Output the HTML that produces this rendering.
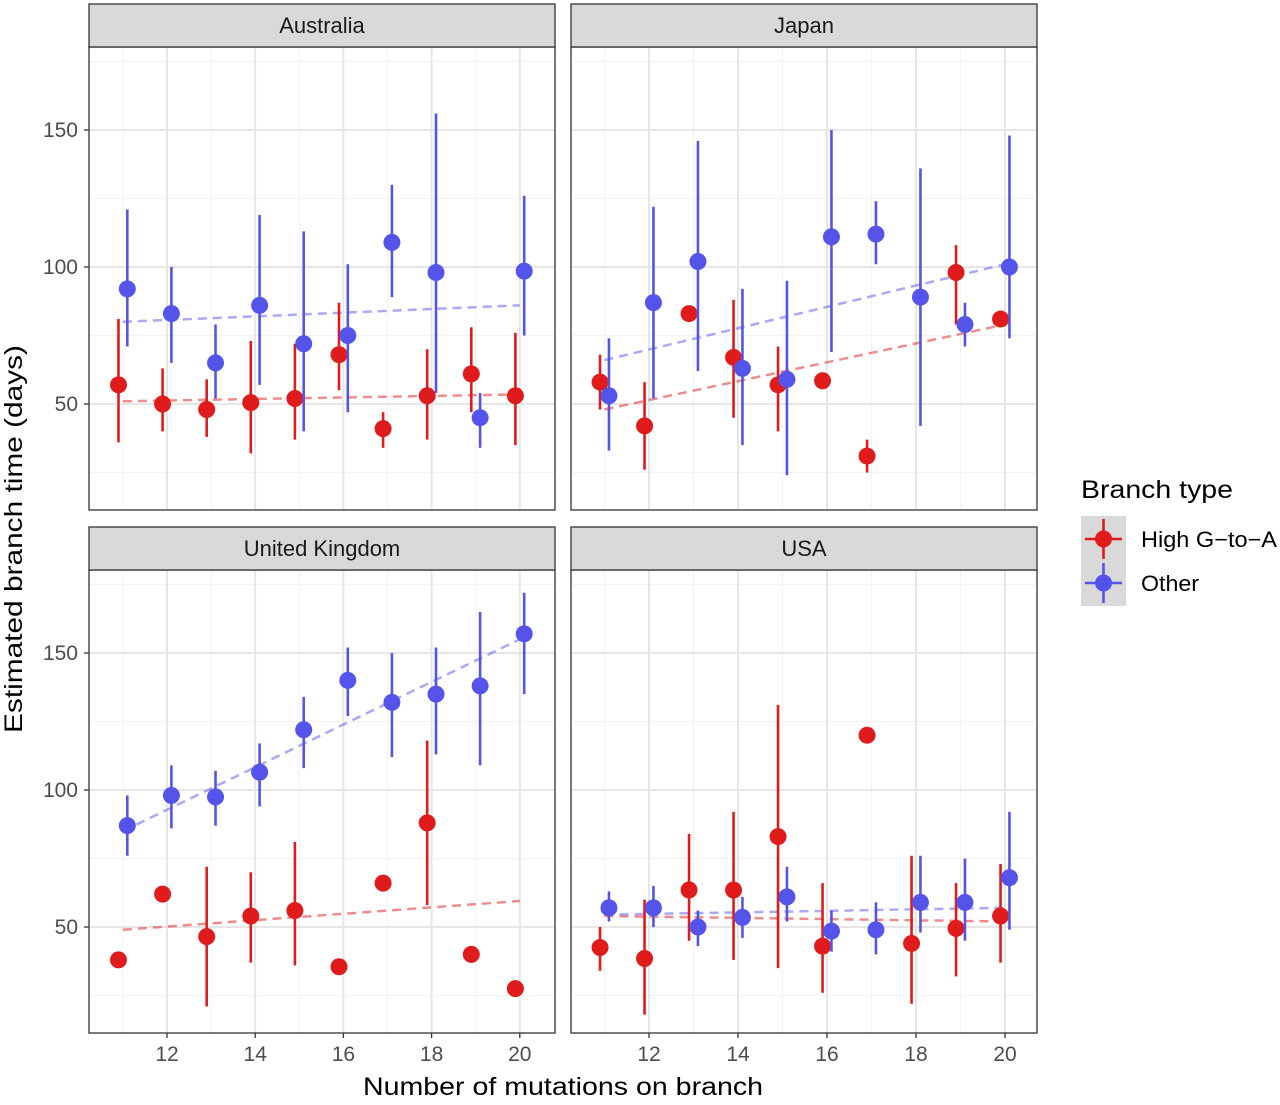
<!DOCTYPE html>
<html><head><meta charset="utf-8"><style>
body{margin:0;background:#fff;font-family:"Liberation Sans",sans-serif;}
svg text{font-family:"Liberation Sans",sans-serif;}
</style></head><body>
<svg id="c" width="1280" height="1100" xmlns="http://www.w3.org/2000/svg"></svg>
<script>
const panelNames=["Australia","Japan","United Kingdom","USA"];
const xs=[11,12,13,14,15,16,17,18,19,20];
const redVal=[[57,50,48,50.5,52,68,41,53,61,53],[58,42,83,67,57,58.5,31,null,98,81],[38,62,46.5,54,56,35.5,66,88,40,27.5],[42.5,38.5,63.5,63.5,83,43,120,44,49.5,54]];
const redLo=[[36,40,38,32,37,55,34,37,47,35],[48,26,null,45,40,null,25,null,79,null],[null,null,21,37,36,null,null,58,null,null],[34,18,45,38,35,26,null,22,32,37]];
const redHi=[[81,63,59,73,72,87,47,70,78,76],[68,58,null,88,71,null,37,null,108,null],[null,null,72,70,81,null,null,118,null,null],[50,60,84,92,131,66,null,76,66,73]];
const blueVal=[[92,83,65,86,72,75,109,98,45,98.5],[53,87,102,63,59,111,112,89,79,100],[87,98,97.5,106.5,122,140,132,135,138,157],[57,57,50,53.5,61,48.5,49,59,59,68]];
const blueLo=[[71,65,52,57,40,47,89,54,34,75],[33,52,62,35,24,69,101,42,71,74],[76,86,87,94,108,127,112,113,109,135],[52,50,43,46,52,41,40,48,45,49]];
const blueHi=[[121,100,79,119,113,101,130,156,54,126],[74,122,146,92,95,150,124,136,87,148],[98,109,107,117,134,152,150,152,165,172],[63,65,56,61,72,56,59,76,75,92]];
const redTrend=[[51,53.5],[48,79],[49,59.5],[54,52]];
const blueTrend=[[80,86],[66,101],[85,155],[54.5,57]];
const yTicks=[50,100,150];
const xTicks=[12,14,16,18,20];

const NS="http://www.w3.org/2000/svg";
const svg=document.getElementById('c');
function mk(t,a,p){const e=document.createElementNS(NS,t);for(const k in a)e.setAttribute(k,a[k]);(p||svg).appendChild(e);return e;}
const RED="#e01b1b",BLUE="#5454ea";
const panels=[{x:89,y:47,s:44.1},{x:571,y:47,s:44.5},{x:89,y:570,s:44.1},{x:571,y:570,s:44.5}];
const PW=466,PH=463;
panelNames.forEach((nm,i)=>{
 const P=panels[i];
 const g=mk('g',{});
 
 
 const X=v=>P.x+78+(v-12)*P.s;
 const Y=v=>P.y+83+(150-v)*137/50;
 mk('rect',{x:P.x,y:P.y,width:PW,height:PH,fill:'#fff'},g);
 [25,75,125,175].forEach(v=>{const y=Y(v);if(y>P.y&&y<P.y+PH)mk('line',{x1:P.x,x2:P.x+PW,y1:y,y2:y,stroke:'#f2f2f2','stroke-width':1},g);});
 [11,13,15,17,19].forEach(v=>mk('line',{x1:X(v),x2:X(v),y1:P.y,y2:P.y+PH,stroke:'#f2f2f2','stroke-width':1},g));
 yTicks.forEach(v=>mk('line',{x1:P.x,x2:P.x+PW,y1:Y(v),y2:Y(v),stroke:'#e6e6e6','stroke-width':2},g));
 xTicks.forEach(v=>mk('line',{x1:X(v),x2:X(v),y1:P.y,y2:P.y+PH,stroke:'#e6e6e6','stroke-width':2},g));
 const rt=mk('line',{x1:X(11),x2:X(20),y1:Y(redTrend[i][0]),y2:Y(redTrend[i][1]),stroke:RED,'stroke-opacity':0.5,'stroke-width':2.5,'stroke-dasharray':'9,6'},g);
 
 
 const bt=mk('line',{x1:X(11),x2:X(20),y1:Y(blueTrend[i][0]),y2:Y(blueTrend[i][1]),stroke:BLUE,'stroke-opacity':0.5,'stroke-width':2.5,'stroke-dasharray':'9,6'},g);
 
 
 const series=[[redVal,redLo,redHi,RED,-0.1,'high-g-to-a'],[blueVal,blueLo,blueHi,BLUE,0.1,'other']];
 series.forEach(([V,L,H,col,dx,sn])=>{
  xs.forEach((x,j)=>{
   const v=V[i][j]; if(v==null)return;
   const cx=X(x+dx);
   if(L[i][j]!=null){const l=mk('line',{x1:cx,x2:cx,y1:Y(L[i][j]),y2:Y(H[i][j]),stroke:col,'stroke-width':2.6},g);
    
    }
   const c=mk('circle',{cx:cx,cy:Y(v),r:8.5,fill:col},g);
   
   
  });
 });
 mk('rect',{x:P.x,y:P.y,width:PW,height:PH,fill:'none',stroke:'#333','stroke-width':1.3},g);
 mk('rect',{x:P.x,y:P.y-43,width:PW,height:43,fill:'#d9d9d9',stroke:'#333','stroke-width':1.3},g);
 const st=mk('text',{x:P.x+PW/2,y:P.y-14,'text-anchor':'middle','font-size':22,fill:'#1a1a1a'},g);st.textContent=nm;
 
 
 if(i%2===0){yTicks.forEach(v=>{mk('line',{x1:P.x-5,x2:P.x,y1:Y(v),y2:Y(v),stroke:'#333','stroke-width':1.3},g);
  const t=mk('text',{x:P.x-11,y:Y(v)+7,'text-anchor':'end','font-size':21,fill:'#4d4d4d'},g);t.textContent=v;
  
  });}
 if(i>=2){xTicks.forEach(v=>{mk('line',{x1:X(v),x2:X(v),y1:P.y+PH,y2:P.y+PH+5,stroke:'#333','stroke-width':1.3},g);
  const t=mk('text',{x:X(v),y:P.y+PH+28,'text-anchor':'middle','font-size':21,fill:'#4d4d4d'},g);t.textContent=v;
  
  });}
});
const yt=mk('text',{x:0,y:0,transform:'translate(22,539) rotate(-90)','text-anchor':'middle','font-size':25,fill:'#000',textLength:388,lengthAdjust:'spacingAndGlyphs'});yt.textContent='Estimated branch time (days)';


const xt=mk('text',{x:563,y:1095,'text-anchor':'middle','font-size':25,fill:'#000',textLength:400,lengthAdjust:'spacingAndGlyphs'});xt.textContent='Number of mutations on branch';


const lg=mk('g',{});


const lt=mk('text',{x:1081,y:498,'font-size':25,fill:'#000',textLength:152,lengthAdjust:'spacingAndGlyphs'},lg);lt.textContent='Branch type';
mk('rect',{x:1081,y:516,width:45,height:90,fill:'#d9d9d9'},lg);
[[RED,'High G\u2212to\u2212A',539,136],[BLUE,'Other',583,58]].forEach(([c,l,y,w])=>{
 const e=mk('g',{},lg);
 
 
 mk('line',{x1:1103.5,x2:1103.5,y1:y-20,y2:y+20,stroke:c,'stroke-width':2.6},e);
 mk('line',{x1:1085,x2:1122,y1:y,y2:y,stroke:c,'stroke-width':2.6},e);
 mk('circle',{cx:1103.5,cy:y,r:8.5,fill:c},e);
 const t=mk('text',{x:1141,y:y+8,'font-size':22,fill:'#000',textLength:w,lengthAdjust:'spacingAndGlyphs'},e);t.textContent=l;
});
</script>
</body></html>
